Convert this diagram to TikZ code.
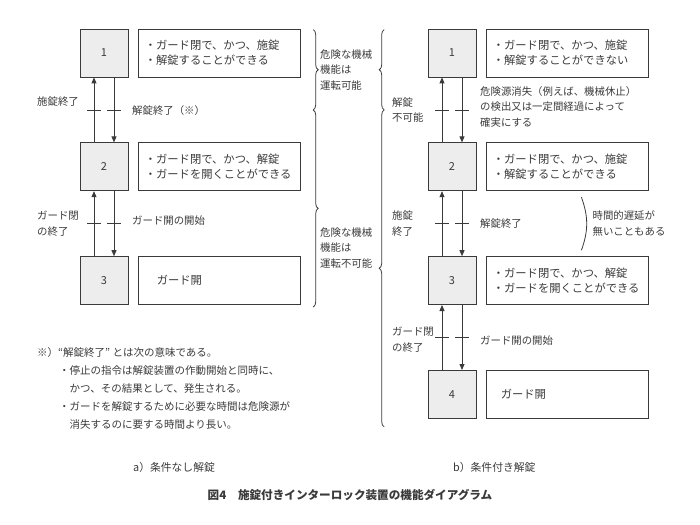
\documentclass[tikz,border=0pt]{standalone}
\usepackage{fontspec}
\setmainfont{Noto Sans CJK JP}
\usepackage{tikz}
\usetikzlibrary{arrows.meta,positioning,calc,decorations.pathreplacing}
\definecolor{sen}{HTML}{3A3A3A}
\definecolor{hai}{HTML}{EDEDED}
\tikzset{
  jotai/.style    = {draw=sen, fill=hai, line width=0.8pt, minimum width=48pt,
                     minimum height=48pt, inner sep=0pt, text=sen,
                     font=\fontsize{11}{13}\selectfont},
  setsumei/.style = {draw=sen, line width=0.8pt, minimum height=48pt,
                     text width=150pt, inner xsep=6pt, inner ysep=0pt, align=left,
                     text=sen, font=\fontsize{11.3}{15}\selectfont},
  fuda/.style     = {align=left, inner sep=0pt, text=sen,
                     font=\fontsize{10.4}{15.5}\selectfont},
  yajirushi/.style= {-{Triangle[length=6pt,width=5pt]}, draw=sen, line width=0.8pt},
  kizami/.style   = {draw=sen, line width=0.8pt},
  kakko/.style    = {draw=sen, line width=0.8pt, decorate,
                     decoration={brace, amplitude=5pt}},
}

\begin{document}
\begin{tikzpicture}[x=1pt, y=-1pt]
  \useasboundingbox (0,0) rectangle (700,524);

  % a) 条件なし解錠
  \node[jotai] (a1) at (104,53) {1};
  \node[setsumei, right=10pt of a1] (at1) {・ガード閉で、かつ、施錠\\・解錠することができる};
  \node[jotai, below=65pt of a1] (a2) {2};
  \node[setsumei, right=10pt of a2] (at2) {・ガード閉で、かつ、解錠\\・ガードを開くことができる};
  \node[jotai, below=65pt of a2] (a3) {3};
  \node[setsumei, right=10pt of a3] (at3) {\hspace*{12pt}ガード開};

  % b) 条件付き解錠
  \node[jotai] (b1) at (452,53) {1};
  \node[setsumei, right=10pt of b1] (bt1) {・ガード閉で、かつ、施錠\\・解錠することができない};
  \node[jotai, below=65pt of b1] (b2) {2};
  \node[setsumei, right=10pt of b2] (bt2) {・ガード閉で、かつ、施錠\\・解錠することができる};
  \node[jotai, below=65pt of b2] (b3) {3};
  \node[setsumei, right=10pt of b3] (bt3) {・ガード閉で、かつ、解錠\\・ガードを開くことができる};
  \node[jotai, below=65pt of b3] (b4) {4};
  \node[setsumei, right=10pt of b4] (bt4) {\hspace*{8pt}ガード開};

  % 遷移の矢印と刻み
  \foreach \u/\d in {a1/a2, a2/a3, b1/b2, b2/b3, b3/b4} {
    \draw[yajirushi] ([xshift=-10pt]\d.north) -- ([xshift=-10pt]\u.south);
    \draw[yajirushi] ([xshift=10pt]\u.south) -- ([xshift=10pt]\d.north);
    \coordinate (m\u) at ($(\u.south)!0.5!(\d.north)$);
    \draw[kizami] ([xshift=-17pt]m\u) -- ([xshift=-3pt]m\u);
    \draw[kizami] ([xshift=3pt]m\u) -- ([xshift=17pt]m\u);
  }

  \node[fuda, anchor=west] (la1) at ($(ma1)+(-67,-8)$) {施錠終了};
  \node[fuda, anchor=west] (ra1) at ($(ma1)+(28,1)$) {解錠終了（※）};
  \node[fuda, anchor=west] (la2) at ($(ma2)+(-67,0)$) {ガード閉\\の終了};
  \node[fuda, anchor=west] (ra2) at ($(ma2)+(28,-3)$) {ガード開の開始};

  \node[fuda, anchor=west] (lb1) at ($(mb1)+(-60,0)$) {解錠\\不可能};
  \node[fuda, anchor=west] (rb1) at ($(mb1)+(28,-3)$)
    {危険源消失（例えば、機械休止）\\の検出又は一定間経過によって\\確実にする};
  \node[fuda, anchor=west] (lb2) at ($(mb2)+(-60,0)$) {施錠\\終了};
  \node[fuda, anchor=west] (rb2) at ($(mb2)+(28,0)$) {解錠終了};
  \node[fuda, anchor=west] (lb3) at ($(mb3)+(-60,2)$) {ガード閉\\の終了};
  \node[fuda, anchor=west] (rb3) at ($(mb3)+(28,3)$) {ガード開の開始};

  % 中括弧
  \coordinate (k1) at ($(at1.north east)+(12,1)$);
  \coordinate (k2) at (k1 |- ma1);
  \coordinate (k3) at ($(at3.south east)+(12,2)$);
  \coordinate (r1) at ($(k1)+(71,0)$);
  \coordinate (r2) at ($(k2)+(71,0)$);
  \coordinate (r3) at ($(b4.south -| r1)+(0,8)$);
  \draw[kakko] (k1) -- (k2);
  \draw[kakko] (k2) -- (k3);
  \draw[kakko] (r2) -- (r1);
  \draw[kakko] (r3) -- (r2);

  \node[fuda, anchor=west] (kiken1) at (320,70) {危険な機械\\機能は\\運転可能};
  \node[fuda, anchor=west] (kiken2) at (320,248) {危険な機械\\機能は\\運転不可能};

  % 時間的遅延
  \coordinate (p1) at ($(bt2.south west)+(95,6)$);
  \coordinate (p2) at ($(bt3.north west)+(95,-6)$);
  \draw[kizami] (p1) to[bend left=20] (p2);
  \node[fuda, anchor=west] (chien) at ($(p1)!0.5!(p2)+(11,0)$) {時間的遅延が\\無いこともある};

  % 注記と表題
  \node[fuda, anchor=north west, font=\fontsize{10.5}{18}\selectfont] (chu) at (37,347)
    {※）“解錠終了” とは次の意味である。\\
     \hspace*{22pt}・停止の指令は解錠装置の作動開始と同時に、\\
     \hspace*{32.5pt}かつ、その結果として、発生される。\\
     \hspace*{22pt}・ガードを解錠するために必要な時間は危険源が\\
     \hspace*{32.5pt}消失するのに要する時間より長い。};

  \node[fuda, anchor=west, font=\fontsize{10.8}{14}\selectfont] (capa) at (133,467) {a）条件なし解錠};
  \node[fuda, anchor=west, font=\fontsize{10.8}{14}\selectfont] (capb) at (453,467) {b）条件付き解錠};
  \node[fuda, font=\fontsize{11.6}{14}\selectfont\bfseries] (zu) at (350,495)
    {図4\hspace{1em}施錠付きインターロック装置の機能ダイアグラム};
\end{tikzpicture}
\end{document}
